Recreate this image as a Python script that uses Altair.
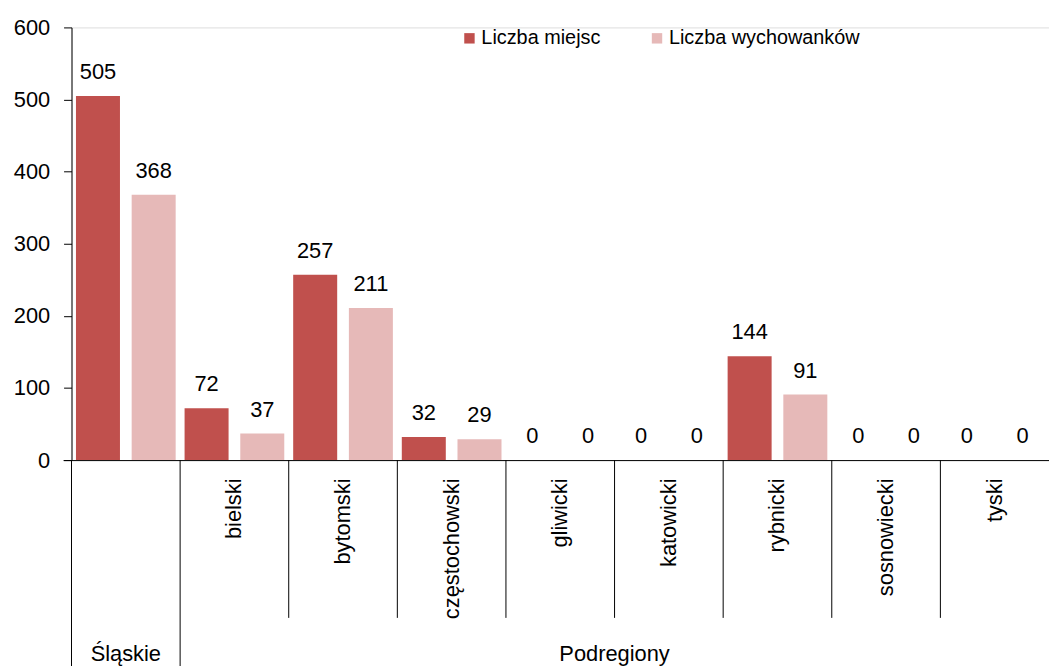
import altair as alt
import pandas as pd

categories = ["Śląskie", "bielski", "bytomski", "częstochowski", "gliwicki",
              "katowicki", "rybnicki", "sosnowiecki", "tyski"]
series = ["Liczba miejsc", "Liczba wychowanków"]
miejsca = [505, 72, 257, 32, 0, 0, 144, 0, 0]
wychowankowie = [368, 37, 211, 29, 0, 0, 91, 0, 0]
colors = ["#C0504D", "#E6B9B8"]
y_ticks = [0, 100, 200, 300, 400, 500, 600]

groups = [
    {"cat": "Śląskie", "label": "Śląskie"},
    {"cat": "katowicki", "label": "Podregiony"},
]

rows = []
for c, m, w in zip(categories, miejsca, wychowankowie):
    rows.append({"cat": c, "series": series[0], "value": m})
    rows.append({"cat": c, "series": series[1], "value": w})
df = pd.DataFrame(rows)

FONT = "Liberation Sans"
FS = 22
PLOT_H = 436

xscale = alt.Scale(domain=categories, paddingInner=0, paddingOuter=0)
xaxis = alt.Axis(
    labelAngle=270, labelPadding=18, ticks=False, domainColor="black",
    labelFontSize=FS, labelColor="black", labelFont=FONT,
    labelExpr="datum.value == 'Śląskie' ? '' : datum.value", title=None,
)
yaxis = alt.Axis(
    values=y_ticks, grid=False, domainColor="black", tickColor="black",
    tickSize=8, labelPadding=14, labelFontSize=FS, labelColor="black",
    labelFont=FONT, title=None,
)
yscale = alt.Scale(domain=[0, 600])
xoff = alt.XOffset("series:N", sort=series,
                   scale=alt.Scale(domain=series, paddingInner=0.21, paddingOuter=0.08))

bars = alt.Chart(df).mark_bar().encode(
    x=alt.X("cat:N", scale=xscale, axis=xaxis, sort=categories),
    xOffset=xoff,
    y=alt.Y("value:Q", scale=yscale, axis=yaxis),
    color=alt.Color("series:N", scale=alt.Scale(domain=series, range=colors),
                    legend=alt.Legend(title=None, orient="none", legendX=391, legendY=1,
                                      direction="horizontal", symbolType="square",
                                      symbolSize=110, symbolStrokeWidth=0,
                                      labelFontSize=20, labelFont=FONT, labelColor="black",
                                      columnPadding=46, labelOffset=2, labelLimit=0)),
)

labels = alt.Chart(df).mark_text(dy=-17, baseline="alphabetic", fontSize=FS,
                                 font=FONT, color="black").encode(
    x=alt.X("cat:N", scale=xscale, axis=xaxis, sort=categories),
    xOffset=xoff,
    y=alt.Y("value:Q", scale=yscale, axis=yaxis),
    text="value:Q",
)

short_div = pd.DataFrame({"cat": categories[2:]})
long_div = pd.DataFrame({"cat": categories[:2]})

short_rules = alt.Chart(short_div).mark_rule(color="black", strokeWidth=1).encode(
    x=alt.X("cat:N", scale=xscale, axis=xaxis, sort=categories, bandPosition=0),
    y=alt.value(PLOT_H), y2=alt.value(PLOT_H + 159),
)
long_rules = alt.Chart(long_div).mark_rule(color="black", strokeWidth=1).encode(
    x=alt.X("cat:N", scale=xscale, axis=xaxis, sort=categories, bandPosition=0),
    y=alt.value(PLOT_H), y2=alt.value(PLOT_H + 220),
)
# x-axis line extends slightly left of the y axis
stub = alt.Chart(long_div.iloc[[0]]).mark_rule(color="black", strokeWidth=1).encode(
    x=alt.value(-8), x2=alt.value(0), y=alt.value(PLOT_H + 0.5),
)

gdf = pd.DataFrame(groups)
g1 = alt.Chart(gdf.iloc[[0]]).mark_text(fontSize=FS, font=FONT, color="black",
                                        baseline="alphabetic").encode(
    x=alt.X("cat:N", scale=xscale, axis=xaxis, sort=categories, bandPosition=0.5),
    y=alt.value(PLOT_H + 202),
    text="label:N",
)
g2 = alt.Chart(gdf.iloc[[1]]).mark_text(fontSize=FS, font=FONT, color="black",
                                        baseline="alphabetic").encode(
    x=alt.X("cat:N", scale=xscale, axis=xaxis, sort=categories, bandPosition=0),
    y=alt.value(PLOT_H + 202),
    text="label:N",
)

chart = alt.layer(bars, labels, short_rules, long_rules, stub, g1, g2).properties(
    width=985, height=PLOT_H,
    autosize=alt.AutoSizeParams(type="none"),
    padding={"left": 64, "top": 17, "right": 0, "bottom": 215},
).configure_view(stroke=None).configure(font=FONT)

chart.save("out.html", embed_options={"renderer": "svg", "actions": False})
